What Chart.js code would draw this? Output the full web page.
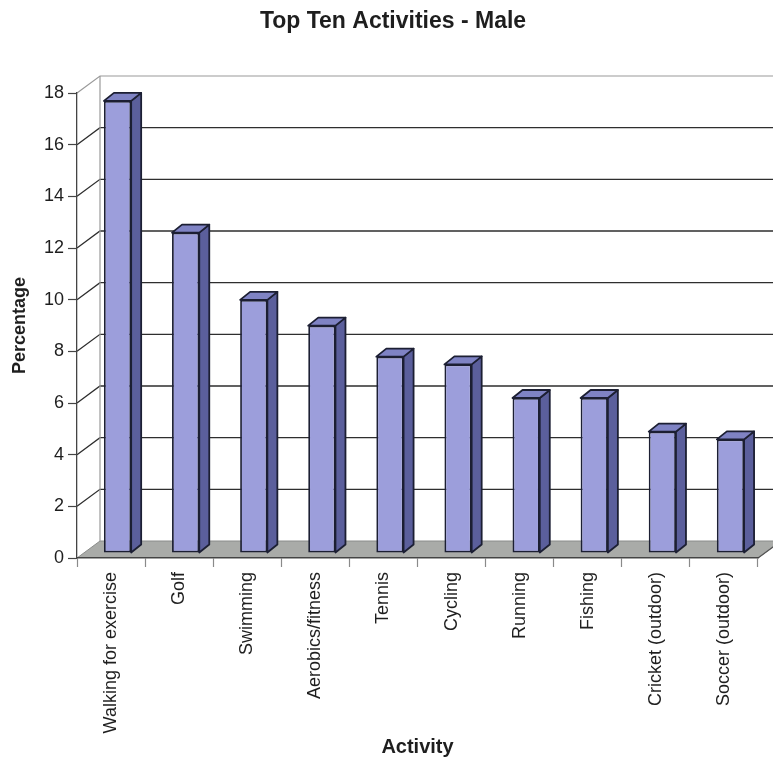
<!DOCTYPE html>
<html>
<head>
<meta charset="utf-8">
<script src="https://cdn.jsdelivr.net/npm/chart.js@4/dist/chart.umd.min.js"></script>
<style>
  html, body { margin: 0; padding: 0; background: #ffffff; }
  #wrap { width: 773px; height: 758px; }
</style>
</head>
<body>
<div id="wrap"><canvas id="chart" width="773" height="758"></canvas></div>
<script>
// Participation in the ten most popular activities (males)
const activities = [
  'Walking for exercise', 'Golf', 'Swimming', 'Aerobics/fitness', 'Tennis',
  'Cycling', 'Running', 'Fishing', 'Cricket (outdoor)', 'Soccer (outdoor)'
];
const percentages = [17.5, 12.4, 9.8, 8.8, 7.6, 7.3, 6.0, 6.0, 4.7, 4.4];
const yTickValues = [0, 2, 4, 6, 8, 10, 12, 14, 16, 18];

const FONT = "'Liberation Sans', Arial, sans-serif";
const TEXT = '#1e1e1e';

// depth of the walls/floor and of each column, in pixels
const WALL_DX = 23, WALL_DY = 17;
const COL_DX = 10, COL_DY = 8;
const COL_SHIFT_X = 6.5, COL_SHIFT_Y = 5;

function poly(ctx, pts, fill, stroke, lw) {
  ctx.beginPath();
  ctx.moveTo(pts[0][0], pts[0][1]);
  for (let i = 1; i < pts.length; i++) ctx.lineTo(pts[i][0], pts[i][1]);
  ctx.closePath();
  if (fill) { ctx.fillStyle = fill; ctx.fill(); }
  if (stroke) { ctx.strokeStyle = stroke; ctx.lineWidth = lw || 1; ctx.stroke(); }
}

function line(ctx, pts, color, lw) {
  ctx.beginPath();
  ctx.moveTo(pts[0][0], pts[0][1]);
  for (let i = 1; i < pts.length; i++) ctx.lineTo(pts[i][0], pts[i][1]);
  ctx.strokeStyle = color;
  ctx.lineWidth = lw || 1;
  ctx.stroke();
}

// Back wall, side wall, floor and the 3-D faces of the columns
const scene3d = {
  id: 'scene3d',
  beforeDraw(chart) {
    const { ctx, scales: { x, y } } = chart;
    const l = x.left, r = x.right;
    const b = y.getPixelForValue(0);
    const t = y.getPixelForValue(yTickValues[yTickValues.length - 1]);
    ctx.save();
    // floor
    poly(ctx, [[l, b], [r, b], [r + WALL_DX, b - WALL_DY], [l + WALL_DX, b - WALL_DY]],
      '#a9aba8', '#8a8c8a', 1);
    // gridlines across the side wall and back wall
    yTickValues.forEach(v => {
      if (v === 0) return;
      const py = y.getPixelForValue(v);
      const top = v === yTickValues[yTickValues.length - 1];
      line(ctx, [[l, py], [l + WALL_DX, py - WALL_DY], [r + WALL_DX + 40, py - WALL_DY]],
        top ? '#9a9a9a' : '#2e2e2e', top ? 1.2 : 1.3);
    });
    // back-left edge of the walls
    line(ctx, [[l + WALL_DX, t - WALL_DY], [l + WALL_DX, b - WALL_DY]], '#9a9a9a', 1.2);
    // right front edge of the floor
    line(ctx, [[r, b], [r + WALL_DX, b - WALL_DY]], '#555555', 1.2);
    ctx.restore();
  },
  beforeDatasetsDraw(chart) {
    chart.ctx.save();
    chart.ctx.translate(COL_SHIFT_X, -COL_SHIFT_Y);
  },
  afterDatasetsDraw(chart) {
    const ctx = chart.ctx;
    chart.getDatasetMeta(0).data.forEach(bar => {
      const { x, y, base, width } = bar.getProps(['x', 'y', 'base', 'width'], true);
      const L = x - width / 2, R = x + width / 2;
      ctx.lineJoin = 'round';
      poly(ctx, [[R, y], [R + COL_DX, y - COL_DY], [R + COL_DX, base - COL_DY], [R, base]],
        '#5b5f9c', '#1c1f33', 1.8);
      poly(ctx, [[L, y], [L + COL_DX, y - COL_DY], [R + COL_DX, y - COL_DY], [R, y]],
        '#7f83c4', '#1c1f33', 1.8);
    });
    ctx.restore();
  }
};

new Chart(document.getElementById('chart'), {
  type: 'bar',
  data: {
    labels: activities,
    datasets: [{
      data: percentages,
      backgroundColor: '#9c9edb',
      borderColor: '#1c1f33',
      borderWidth: 1.8,
      borderSkipped: false,
      barPercentage: 0.4,
      categoryPercentage: 1.0
    }]
  },
  options: {
    responsive: false,
    animation: false,
    events: [],
    layout: { padding: { left: 28, right: 15, top: 0, bottom: 0 } },
    plugins: {
      legend: { display: false },
      tooltip: { enabled: false },
      title: {
        display: true,
        text: 'Top Ten Activities - Male',
        color: TEXT,
        font: { family: FONT, size: 23, weight: 'bold' },
        padding: { top: 8, bottom: 57.4 }
      }
    },
    scales: {
      x: {
        offset: true,
        afterFit(scale) { scale.height = 200; },
        grid: {
          display: true,
          offset: true,
          drawOnChartArea: false,
          drawTicks: true,
          tickLength: 9,
          tickColor: '#8a8a8a',
          tickWidth: 1.2
        },
        border: { display: true, color: '#444444', width: 1.3 },
        ticks: {
          color: TEXT,
          font: { family: FONT, size: 18 },
          minRotation: 90,
          maxRotation: 90,
          padding: 5,
          autoSkip: false
        },
        title: {
          display: true,
          text: 'Activity',
          color: TEXT,
          font: { family: FONT, size: 20, weight: 'bold' },
          padding: { top: 0, bottom: -1 }
        }
      },
      y: {
        min: 0,
        max: 18,
        afterFit(scale) { scale.width = 49; },
        afterBuildTicks(scale) { scale.ticks = yTickValues.map(v => ({ value: v })); },
        grid: {
          display: true,
          drawOnChartArea: false,
          drawTicks: true,
          tickLength: 9,
          tickColor: '#444444',
          tickWidth: 1.2
        },
        border: { display: true, color: '#444444', width: 1.3 },
        ticks: {
          color: TEXT,
          font: { family: FONT, size: 18 },
          padding: 4
        },
        title: {
          display: true,
          text: 'Percentage',
          color: TEXT,
          font: { family: FONT, size: 18, weight: 'bold' },
          padding: { top: -19, bottom: 0 }
        }
      }
    }
  },
  plugins: [scene3d]
});
</script>
</body>
</html>
